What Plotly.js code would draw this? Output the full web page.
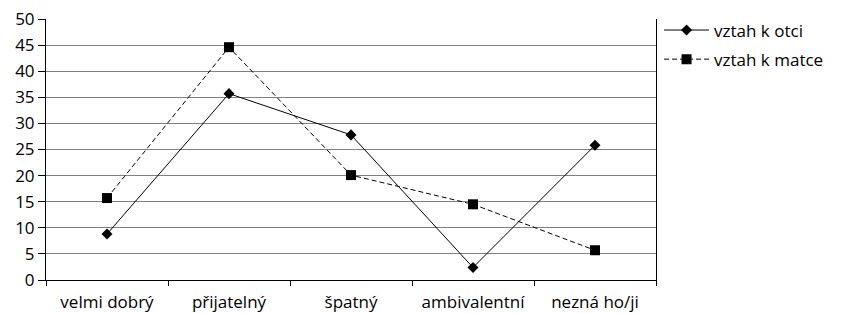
<!DOCTYPE html>
<html>
<head>
<meta charset="utf-8">
<script src="https://cdn.plot.ly/plotly-3.0.1.min.js"></script>
<style>html,body{margin:0;padding:0;background:#fff;}#chart{width:842px;height:313px;}</style>
</head>
<body>
<div id="chart"></div>
<script>
var categories = ["velmi dobrý", "přijatelný", "špatný", "ambivalentní", "nezná ho/ji"];
var otecValues = [8.8, 35.7, 27.8, 2.4, 25.8];
var matkaValues = [15.7, 44.6, 20.1, 14.5, 5.7];
var seriesNames = ["vztah k otci", "vztah k matce"];
var yTicks = [0, 5, 10, 15, 20, 25, 30, 35, 40, 45, 50];

var fontFam = "Open Sans, sans-serif";
var traces = [
  {
    x: categories, y: otecValues, name: seriesNames[0], type: "scatter", mode: "lines+markers",
    line: {color: "#000", width: 1},
    marker: {symbol: "diamond", size: 8.5, color: "#000"},
    legendgroup: "a"
  },
  {
    x: categories, y: matkaValues, name: seriesNames[1], type: "scatter", mode: "lines+markers",
    line: {color: "#000", width: 1, dash: "5px,3px"},
    marker: {symbol: "square", size: 10, color: "#000"},
    legendgroup: "b"
  }
];
var layout = {
  width: 842, height: 313,
  margin: {l: 46, r: 186, t: 19, b: 33},
  paper_bgcolor: "#fff", plot_bgcolor: "#fff",
  font: {family: fontFam, size: 17, color: "#000"},
  showlegend: true,
  legend: {x: 1.005, xanchor: "left", y: 1.025, yanchor: "top", tracegroupgap: 4, itemwidth: 45,
           font: {family: fontFam, size: 17, color: "#000"}, bgcolor: "rgba(0,0,0,0)"},
  xaxis: {
    type: "category", range: [-0.5, 4.5], tickson: "boundaries",
    ticks: "outside", ticklen: 5, tickcolor: "#000", tickwidth: 1,
    showline: true, linecolor: "#000", linewidth: 1,
    showgrid: false, zeroline: false, fixedrange: true,
    ticklabelstandoff: 7,
    tickfont: {family: fontFam, size: 17, color: "#000"}
  },
  yaxis: {
    range: [0, 50], tickvals: yTicks, ticktext: yTicks.map(String),
    ticks: "outside", ticklen: 7, tickcolor: "#000", tickwidth: 1,
    showline: true, linecolor: "#000", linewidth: 1, mirror: true,
    showgrid: true, gridcolor: "#808080", gridwidth: 1,
    zeroline: false, fixedrange: true,
    tickfont: {family: fontFam, size: 17, color: "#000"}
  }
};
Plotly.newPlot("chart", traces, layout, {displayModeBar: false, staticPlot: true});
</script>
</body>
</html>
